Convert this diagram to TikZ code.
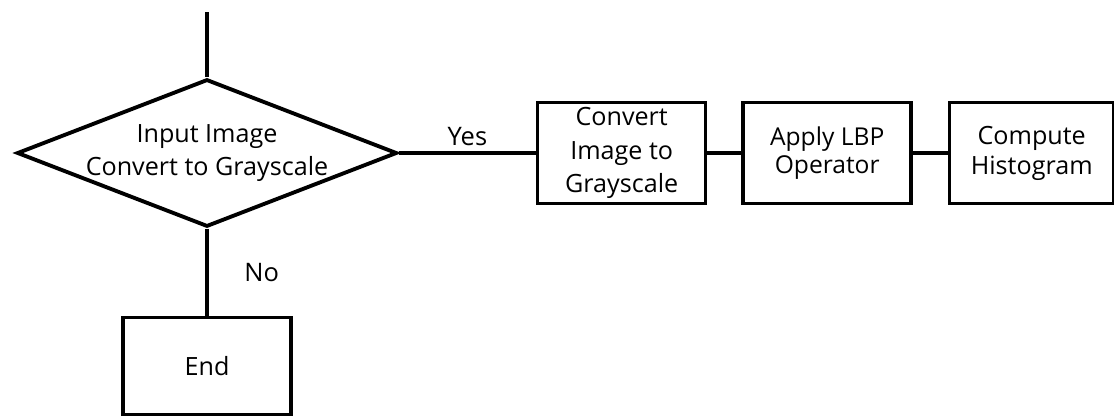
\documentclass[tikz,border=0pt]{standalone}
\usepackage{fontspec}
\setmainfont{Open Sans}
\usetikzlibrary{shapes.geometric, arrows.meta, positioning}
\tikzset{
	block/.style={draw, line width=2pt, minimum width=3.36cm, minimum height=2.02cm,
		align=center, inner sep=0pt,
		font=\fontsize{14.3}{19}\selectfont},
	decision/.style={draw, diamond, aspect=2.57, line width=2.2pt, minimum width=7.6cm,
		minimum height=2.95cm, inner xsep=-4pt, inner ysep=-1pt, align=center,
		font=\fontsize{14.3}{18.7}\selectfont},
	link/.style={line width=1.8pt},
	lbl/.style={font=\fontsize{14.5}{17}\selectfont}
}

\begin{document}
\begin{tikzpicture}
	\useasboundingbox (0,0) rectangle (22.28,-8.3);
	% decision node
	\node[decision] (input) at (4.14,-3.06) {Input Image\\Convert to Grayscale};
	\coordinate (entry) at (4.14,-0.24);
	% blocks
	\node[block,
	right=2.74cm of input] (gray) {Convert\\Image to\\Grayscale};
	\node[block,
	right=0.68cm of gray,
	font=\fontsize{14}{16}\selectfont] (lbp) {Apply LBP\\Operator};
	\node[block,
	minimum width=3.28cm,
	right=0.7cm of lbp,
	font=\fontsize{14.3}{17}\selectfont] (hist) {Compute\\Histogram};
	\node[block,
	minimum height=1.94cm,
	below=1.74cm of input] (stop) {End};
	
	% Lines
	\draw[link] (entry) -- (input.north);
	\draw[link] (input.east) -- (gray.west) node[midway,above,lbl]{Yes};
	\draw[link] (gray) -- (lbp);
	\draw[link] (lbp) -- (hist);
	\draw[link] (input.south) -- (stop.north) node[midway,right=0.6cm,lbl]{No};
\end{tikzpicture}
\end{document}
